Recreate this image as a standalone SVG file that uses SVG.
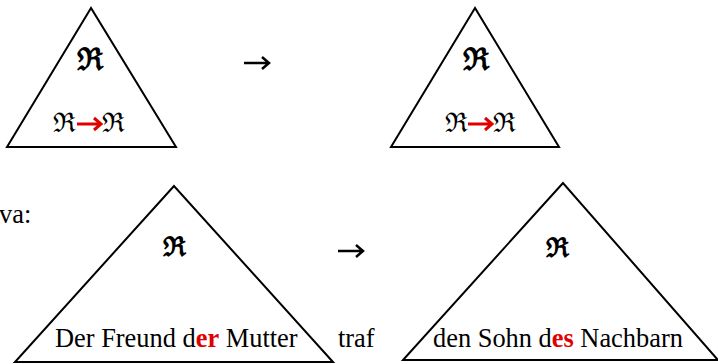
<svg xmlns="http://www.w3.org/2000/svg" width="718" height="364" viewBox="0 0 718 364">
<style>
.tri{fill:none;stroke:#000;stroke-width:2;stroke-linejoin:miter}
.fr{font-family:'DejaVu Serif',serif;fill:#000;text-anchor:middle}
.b{font-weight:bold}
.t{font-family:'Liberation Serif','Times New Roman','DejaVu Serif',serif;font-size:26.4px;fill:#000}
.red{fill:#e00000;font-weight:bold}
.arr{fill:none;stroke:#000;stroke-width:2.5}
.rarr{fill:none;stroke:#e00000;stroke-width:3}
</style>
<rect width="718" height="364" fill="#fff"/>
<g id="tri1">
<polygon class="tri" points="91,8 7,147 176,147"/>
<text class="fr b" x="90" y="70" font-size="31">ℜ</text>
<text class="fr" x="64" y="132" font-size="27">ℜ</text>
<text class="fr" x="113" y="132" font-size="27">ℜ</text>
</g>
<g id="tri2">
<polygon class="tri" points="475,8 391,147 559,147"/>
<text class="fr b" x="476" y="70" font-size="31">ℜ</text>
<text class="fr" x="456" y="132" font-size="27">ℜ</text>
<text class="fr" x="504" y="132" font-size="27">ℜ</text>
</g>
<g id="tri3">
<polygon class="tri" points="174,186 15,362 333,362"/>
<text class="fr b" x="174" y="256" font-size="27">ℜ</text>
<text class="t" x="55" y="347">Der Freund d<tspan class="red">er</tspan> Mutter</text>
</g>
<g id="tri4">
<polygon class="tri" points="563,183 403,360 718,360"/>
<text class="fr b" x="557" y="257" font-size="27">ℜ</text>
<text class="t" x="433" y="347">den Sohn d<tspan class="red">es</tspan> Nachbarn</text>
</g>
<g id="labels">
<text class="t" x="-1" y="223">va:</text>
<text class="t" x="338" y="347">traf</text>
</g>
<g id="connectors">
<path class="arr" d="M244,63 H268 M262,57 L269,63 L262,69"/>
<path class="arr" d="M338,251 H362 M356,245 L363,251 L356,257"/>
<path class="rarr" d="M77,124 H100 M94,118 L101,124 L94,130"/>
<path class="rarr" d="M468,124 H491 M485,118 L492,124 L485,130"/>
</g>
</svg>
